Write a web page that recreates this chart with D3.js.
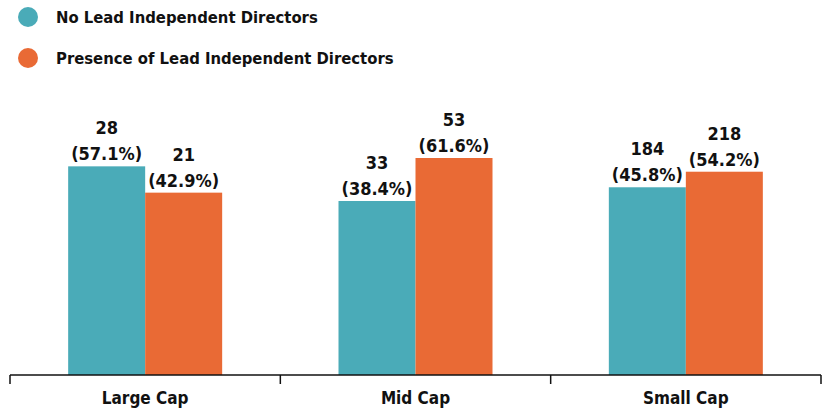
<!DOCTYPE html>
<html>
<head>
<meta charset="utf-8">
<script src="https://cdn.jsdelivr.net/npm/d3@7"></script>
<style>
  body { margin: 0; background: #fff; }
  text { font-family: "DejaVu Sans Condensed", "Liberation Sans Narrow", sans-serif; font-weight: bold; fill: #111; }
</style>
</head>
<body>
<div id="chart"></div>
<script>
var categories = ["Large Cap", "Mid Cap", "Small Cap"];
var seriesNames = ["No Lead Independent Directors", "Presence of Lead Independent Directors"];
var seriesColors = ["#4aabb8", "#e96a35"];
var noLeadCounts = [28, 33, 184];
var noLeadPct = [57.1, 38.4, 45.8];
var leadCounts = [21, 53, 218];
var leadPct = [42.9, 61.6, 54.2];

var width = 823, height = 411;
var svg = d3.select("#chart").append("svg").attr("width", width).attr("height", height);

var x0 = d3.scaleBand().domain(categories).range([10, 821]).paddingInner(0).paddingOuter(0);
var x1 = d3.scaleBand().domain([0, 1]).range([0, 154]);
// bars are drawn on a shifted scale (as in the source picture)
var y = d3.scaleLinear().domain([-55.5, 61.6]).range([375, 158]);

var rows = categories.map(function (c, i) {
	return [
		{ cat: c, s: 0, n: noLeadCounts[i], p: noLeadPct[i] },
		{ cat: c, s: 1, n: leadCounts[i], p: leadPct[i] }
	];
});

var groups = svg.selectAll("g.grp").data(rows).enter().append("g")
	.attr("class", "grp")
	.attr("transform", function (d) { return "translate(" + (x0(d[0].cat) + (x0.bandwidth() - 154) / 2) + ",0)"; });

groups.selectAll("rect").data(function (d) { return d; }).enter().append("rect")
	.attr("x", function (d) { return x1(d.s); })
	.attr("width", x1.bandwidth())
	.attr("y", function (d) { return y(d.p); })
	.attr("height", function (d) { return y.range()[0] - y(d.p); })
	.attr("fill", function (d) { return seriesColors[d.s]; });

var lbl = groups.selectAll("text.val").data(function (d) { return d; }).enter().append("text")
	.attr("class", "val")
	.attr("text-anchor", "middle")
	.style("font-size", "18px")
	.attr("x", function (d) { return x1(d.s) + x1.bandwidth() / 2; });
lbl.append("tspan")
	.attr("x", function (d) { return x1(d.s) + x1.bandwidth() / 2; })
	.attr("y", function (d) { return y(d.p) - 32; })
	.text(function (d) { return d.n; });
lbl.append("tspan")
	.attr("x", function (d) { return x1(d.s) + x1.bandwidth() / 2; })
	.attr("y", function (d) { return y(d.p) - 6; })
	.text(function (d) { return "(" + d.p.toFixed(1) + "%)"; });

// x axis: baseline plus dividers between categories
var axis = svg.append("g").attr("transform", "translate(0,375)");
axis.append("line").attr("x1", 10).attr("x2", 821).attr("y1", 0).attr("y2", 0)
	.attr("stroke", "#111").attr("stroke-width", 1.5);
var edges = categories.map(function (c) { return x0(c); }).concat([x0.range()[1]]);
axis.selectAll("line.tick").data(edges).enter().append("line")
	.attr("class", "tick")
	.attr("x1", function (d) { return d; }).attr("x2", function (d) { return d; })
	.attr("y1", 0).attr("y2", 9)
	.attr("stroke", "#111").attr("stroke-width", 1.5);
axis.selectAll("text").data(categories).enter().append("text")
	.attr("x", function (d) { return x0(d) + x0.bandwidth() / 2; })
	.attr("y", 29)
	.attr("text-anchor", "middle")
	.style("font-size", "17px")
	.text(function (d) { return d; });

// legend
var leg = svg.selectAll("g.leg").data(seriesNames).enter().append("g")
	.attr("class", "leg")
	.attr("transform", function (d, i) { return "translate(28," + (17 + i * 41) + ")"; });
leg.append("circle").attr("r", 10).attr("fill", function (d, i) { return seriesColors[i]; });
leg.append("text").attr("x", 28).attr("y", 6).style("font-size", "16.5px").text(function (d) { return d; });
</script>
</body>
</html>
